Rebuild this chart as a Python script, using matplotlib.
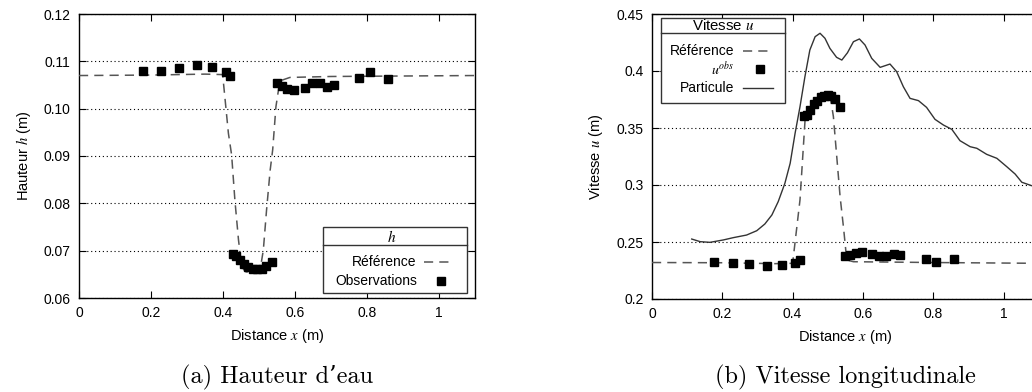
import matplotlib
matplotlib.use("Agg")
import matplotlib.pyplot as plt
from matplotlib.ticker import FormatStrFormatter, FuncFormatter
from matplotlib.lines import Line2D
from matplotlib.patches import Rectangle

plt.rcParams['font.family'] = ['Liberation Sans', 'DejaVu Sans']
plt.rcParams['mathtext.fontset'] = 'stix'

# ---------------- data: (a) water height ----------------
h_obs_x = [0.179, 0.229, 0.279, 0.329, 0.370, 0.409, 0.420,
           0.429, 0.437, 0.447, 0.458, 0.470, 0.482, 0.494, 0.507, 0.520, 0.535,
           0.551, 0.565, 0.579, 0.598, 0.629, 0.648, 0.670, 0.690, 0.709,
           0.779, 0.809, 0.859]
h_obs_y = [0.1079, 0.1079, 0.1085, 0.1092, 0.1087, 0.1077, 0.1070,
           0.0693, 0.0688, 0.0681, 0.0672, 0.0666, 0.0662, 0.0661, 0.0662, 0.0667, 0.0677,
           0.1054, 0.1047, 0.1042, 0.1039, 0.1043, 0.1054, 0.1054, 0.1045, 0.1049,
           0.1064, 0.1077, 0.1062]

h_ref_x = [0.0, 0.2, 0.35, 0.399, 0.406, 0.415, 0.424, 0.433, 0.443, 0.452,
           0.462, 0.475, 0.490, 0.503, 0.512, 0.521, 0.531, 0.538, 0.547, 0.554,
           0.563, 0.586, 0.7, 0.9, 1.1]
h_ref_y = [0.1070, 0.1071, 0.1073, 0.1072, 0.1018, 0.0948, 0.0902, 0.0807, 0.0723, 0.0666,
           0.0656, 0.0653, 0.0654, 0.0659, 0.0701, 0.0786, 0.0870, 0.0913, 0.1004, 0.1039,
           0.1060, 0.1066, 0.1068, 0.1069, 0.1070]

# ---------------- data: (b) longitudinal velocity ----------------
u_obs_x = [0.177, 0.230, 0.277, 0.328, 0.369, 0.408, 0.420,
           0.431, 0.440, 0.450, 0.460, 0.470, 0.480, 0.490, 0.500, 0.510, 0.520, 0.535,
           0.550, 0.564, 0.581, 0.598, 0.627, 0.647, 0.666, 0.687, 0.706,
           0.778, 0.809, 0.858]
u_obs_y = [0.2322, 0.2313, 0.2304, 0.2289, 0.2296, 0.2318, 0.2342,
           0.3605, 0.3615, 0.3660, 0.3710, 0.3740, 0.3770, 0.3785, 0.3790, 0.3780, 0.3752, 0.3687,
           0.2377, 0.2386, 0.2406, 0.2412, 0.2395, 0.2377, 0.2377, 0.2395, 0.2384,
           0.2351, 0.2322, 0.2351]

u_ref_x = [0.0, 0.2, 0.35, 0.40, 0.421, 0.436, 0.45, 0.465, 0.48, 0.50, 0.507,
           0.516, 0.535, 0.545, 0.554, 0.573, 0.8, 1.1]
u_ref_y = [0.2320, 0.2318, 0.2310, 0.2313, 0.287, 0.360, 0.367, 0.372, 0.377, 0.378, 0.3775,
           0.360, 0.290, 0.262, 0.2342, 0.2327, 0.2320, 0.2313]

u_part_x = [0.113, 0.137, 0.165, 0.203, 0.231, 0.269, 0.298, 0.321, 0.341, 0.359,
            0.378, 0.393, 0.407, 0.421, 0.435, 0.449, 0.464, 0.478, 0.492, 0.506,
            0.525, 0.540, 0.556, 0.573, 0.590, 0.606, 0.625, 0.649, 0.677, 0.696,
            0.715, 0.734, 0.758, 0.781, 0.805, 0.829, 0.853, 0.876, 0.905, 0.924,
            0.952, 0.981, 1.009, 1.033, 1.052, 1.080, 1.100]
u_part_y = [0.2526, 0.2503, 0.2497, 0.2518, 0.2538, 0.2561, 0.2599, 0.2658, 0.2737, 0.2854,
            0.3015, 0.3190, 0.3453, 0.3687, 0.3950, 0.4184, 0.4301, 0.4331, 0.4287, 0.4199,
            0.4120, 0.4096, 0.4160, 0.4257, 0.4281, 0.4228, 0.4111, 0.4032, 0.4061, 0.3994,
            0.3862, 0.3760, 0.3740, 0.3681, 0.3576, 0.3526, 0.3488, 0.3389, 0.3336, 0.3322,
            0.3269, 0.3234, 0.3161, 0.3096, 0.3024, 0.2994, 0.2980]

h_ticks_y = [0.06, 0.07, 0.08, 0.09, 0.10, 0.11, 0.12]
u_ticks_y = [0.2, 0.25, 0.3, 0.35, 0.4, 0.45]
x_ticks = [0, 0.2, 0.4, 0.6, 0.8, 1.0]

REF_COLOR = '#555555'
FS = 10

fig = plt.figure(figsize=(10.32, 3.92), dpi=100)
axL = fig.add_axes([79 / 1032, 94 / 392, 396 / 1032, 284 / 392])
axR = fig.add_axes([652 / 1032, 93 / 392, 386.7 / 1032, 285 / 392])


def style(ax, yticks, yfmt):
    ax.set_xlim(0, 1.1)
    ax.set_xticks(x_ticks)
    ax.set_yticks(yticks)
    ax.set_ylim(yticks[0], yticks[-1])
    ax.xaxis.set_major_formatter(FuncFormatter(lambda v, p: f"{v:g}"))
    ax.yaxis.set_major_formatter(yfmt)
    ax.tick_params(direction='in', top=True, right=True, length=5, width=0.8,
                   labelsize=FS, pad=6)
    ax.yaxis.grid(True, linestyle=(0, (1, 2.5)), color='black', linewidth=0.8)
    ax.set_axisbelow(True)
    for s in ax.spines.values():
        s.set_linewidth(1.0)


# ---------- left plot ----------
style(axL, h_ticks_y, FormatStrFormatter('%.2f'))
axL.plot(h_ref_x, h_ref_y, linestyle=(0, (6, 4)), color=REF_COLOR, linewidth=1.1, zorder=3)
axL.plot(h_obs_x, h_obs_y, linestyle='none', marker='s', markersize=5.5,
         color='black', zorder=4)
axL.set_xlabel('Distance $x$ (m)', fontsize=FS + 0.5, labelpad=5)
axL.set_ylabel('Hauteur $h$ (m)', fontsize=FS + 0.5, labelpad=8)

# legend (a) drawn in gnuplot style
tr = axL.transAxes
axL.add_patch(Rectangle((0.616, 0.019), 0.363, 0.232, transform=tr, facecolor='white',
                        edgecolor='#333333', linewidth=1.0, zorder=5))
axL.add_line(Line2D([0.616, 0.979], [0.187, 0.187], transform=tr, color='#333333',
                    linewidth=1.0, zorder=6))
axL.text(0.789, 0.215, '$h$', transform=tr, ha='center', va='center', fontsize=FS + 1, zorder=6)
axL.text(0.853, 0.126, 'Référence', transform=tr, ha='right', va='center', fontsize=FS, zorder=6)
axL.add_line(Line2D([0.871, 0.947], [0.126, 0.126], transform=tr, color=REF_COLOR,
                    linestyle=(0, (6, 4)), linewidth=1.1, zorder=6))
axL.text(0.853, 0.060, 'Observations', transform=tr, ha='right', va='center', fontsize=FS, zorder=6)
axL.add_line(Line2D([0.913], [0.060], transform=tr, color='black', marker='s',
                    markersize=5.5, linestyle='none', zorder=6))

# ---------- right plot ----------
style(axR, u_ticks_y, FuncFormatter(lambda v, p: f"{v:g}"))
axR.plot(u_ref_x, u_ref_y, linestyle=(0, (6, 4)), color=REF_COLOR, linewidth=1.1, zorder=3)
axR.plot(u_obs_x, u_obs_y, linestyle='none', marker='s', markersize=5.5,
         color='black', zorder=4)
axR.plot(u_part_x, u_part_y, linestyle='-', color='#333333', linewidth=1.0, zorder=3)
axR.set_xlabel('Distance $x$ (m)', fontsize=FS + 0.5, labelpad=5)
axR.set_ylabel('Vitesse $u$ (m)', fontsize=FS + 0.5, labelpad=8)

tr = axR.transAxes
axR.add_patch(Rectangle((0.0233, 0.689), 0.321, 0.296, transform=tr, facecolor='white',
                        edgecolor='#333333', linewidth=1.0, zorder=5))
axR.add_line(Line2D([0.0233, 0.344], [0.932, 0.932], transform=tr, color='#333333',
                    linewidth=1.0, zorder=6))
axR.text(0.183, 0.958, 'Vitesse $u$', transform=tr, ha='center', va='center',
         fontsize=FS + 0.8, zorder=6)
axR.text(0.212, 0.871, 'Référence', transform=tr, ha='right', va='center', fontsize=FS, zorder=6)
axR.add_line(Line2D([0.236, 0.314], [0.871, 0.871], transform=tr, color=REF_COLOR,
                    linestyle=(0, (6, 4)), linewidth=1.1, zorder=6))
axR.text(0.212, 0.807, '$u^{obs}$', transform=tr, ha='right', va='center', fontsize=FS, zorder=6)
axR.add_line(Line2D([0.279], [0.807], transform=tr, color='black', marker='s',
                    markersize=5.5, linestyle='none', zorder=6))
axR.text(0.212, 0.739, 'Particule', transform=tr, ha='right', va='center', fontsize=FS, zorder=6)
axR.add_line(Line2D([0.236, 0.314], [0.739, 0.739], transform=tr, color='#333333',
                    linewidth=1.0, zorder=6))

# ---------- captions ----------
fig.text(277 / 1032, 1 - 377 / 392, '(a) Hauteur d\u2019eau', ha='center', va='center',
         fontsize=17.5, family=['cmr10', 'DejaVu Serif'])
fig.text(845 / 1032, 1 - 377 / 392, '(b) Vitesse longitudinale', ha='center', va='center',
         fontsize=17.5, family=['cmr10', 'DejaVu Serif'])

fig.savefig('out.png', dpi=100)
